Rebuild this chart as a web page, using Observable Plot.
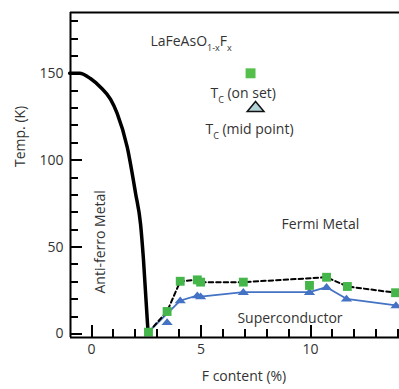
<!DOCTYPE html>
<html><head><meta charset="utf-8">
<script src="https://cdn.jsdelivr.net/npm/d3@7"></script>
<script src="https://cdn.jsdelivr.net/npm/@observablehq/plot@0.6"></script>
<style>body{margin:0;background:#fff}</style>
</head><body><div id="chart"></div>
<script>
// ---- data ----
const fOnset = [2.6, 3.45, 4.05, 4.83, 4.98, 6.93, 9.95, 10.73, 11.68, 13.88];
const tOnset = [1.0, 12.9, 30.3, 31.1, 29.8, 29.8, 27.9, 32.6, 27.3, 23.7];
const fMid = [2.6, 3.45, 4.05, 4.83, 4.98, 6.93, 9.95, 10.73, 11.64, 13.9];
const tMid = [1.0, 6.7, 19.2, 22.1, 21.5, 24.0, 24.0, 26.9, 20.2, 16.4];
const fAfm = [-1, -0.55, -0.05, 0.41, 0.87, 1.17, 1.63, 2.01, 2.24, 2.37, 2.58];
const tAfm = [150, 150, 147, 142, 135, 127, 107.5, 81, 63, 43, 1];
const onsetGuideSkip = [6];   // dashed guide passes above the 10% point
const midGuideSkip = [1];     // solid guide passes above the 3.5% point
const midDotSkip = [0];       // first mid point hidden under onset square

const xMajor = [0, 5, 10];
const xMinor = d3.range(0, 15);
const yMajor = [0, 50, 100, 150];
const yMinor = d3.range(10, 190, 10);
const xDomain = [-0.96, 14.06];
const yDomain = [-2.07, 185];

const title = "LaFeAsO1-xFx";
const onsetLabel = "TC (on set)";
const midLabel = "TC (mid point)";
const regionLabels = [
  {text: "Fermi Metal", F: 10.45, T: 63},
  {text: "Superconductor", F: 9.06, T: 8.6}
];
const afmLabel = {text: "Anti-ferro Metal", F: 0.41, T: 53};
const xLabel = "F content (%)";
const yLabel = "Temp. (K)";

// ---- tables ----
const onset = fOnset.map((F, i) => ({F, T: tOnset[i]}));
const mid = fMid.map((F, i) => ({F, T: tMid[i]}));
const afm = fAfm.map((F, i) => ({F, T: tAfm[i]}));
const onsetGuide = onset.filter((d, i) => !onsetGuideSkip.includes(i));
const midGuide = mid.filter((d, i) => !midGuideSkip.includes(i));
const midDots = mid.filter((d, i) => !midDotSkip.includes(i));

const W = 399, H = 389, mL = 70, mT = 12, mR = 0, mB = 52;
const frameW = W - mL - mR, frameH = H - mT - mB;
const xPx = frameW / (xDomain[1] - xDomain[0]);   // pixels per x unit
const yPx = frameH / (yDomain[1] - yDomain[0]);   // pixels per y unit
const green = "#45b649", blue = "#4472c4", ink = "#333";
const flatTriangle = {
  draw(ctx, size) {
    const s = Math.sqrt(size / Math.PI);
    const hw = 1.2 * s, h = 1.45 * s;
    ctx.moveTo(0, -h * 0.6);
    ctx.lineTo(hw, h * 0.4);
    ctx.lineTo(-hw, h * 0.4);
    ctx.closePath();
  }
};

const chart = Plot.plot({
  width: W, height: H,
  marginLeft: mL, marginTop: mT, marginRight: mR, marginBottom: mB,
  style: {fontFamily: "'Open Sans', 'Noto Sans', sans-serif", fontSize: "14px", color: "#000", background: "#fff"},
  x: {domain: xDomain},
  y: {domain: yDomain},
  marks: [
    Plot.axisX({ticks: xMajor, tickSize: 0, tickPadding: 7, label: null, fill: ink}),
    Plot.axisY({ticks: yMajor, tickSize: 0, tickPadding: 7, label: null, fill: ink}),
    Plot.line(afm, {x: "F", y: "T", curve: "monotone-x", stroke: "#000", strokeWidth: 3.5}),
    Plot.line(midGuide, {x: "F", y: "T", stroke: blue, strokeWidth: 1.8}),
    Plot.line(onsetGuide, {x: "F", y: "T", stroke: "#000", strokeWidth: 2, strokeDasharray: "4.5,3"}),
    Plot.dot(midDots, {x: "F", y: "T", r: 4.7, symbol: flatTriangle, fill: blue, stroke: "none"}),
    Plot.dot(onset, {x: "F", y: "T", r: 5, symbol: "square", fill: green, stroke: "none"}),
    // legend
    Plot.dot([{F: 7.26, T: 150}], {x: "F", y: "T", r: 5.6, symbol: "square", fill: "#55bf4c", stroke: "none"}),
    Plot.dot([{F: 7.49, T: 130.3}], {x: "F", y: "T", r: 7, symbol: flatTriangle, fill: "#b3d3d9", stroke: "#111", strokeWidth: 1.5}),
    Plot.text([{text: onsetLabel, F: 5.43, T: 138.4}], {x: "F", y: "T", text: "text", textAnchor: "start", fontSize: 14, fill: ink}),
    Plot.text([{text: midLabel, F: 5.2, T: 117.6}], {x: "F", y: "T", text: "text", textAnchor: "start", fontSize: 14, fill: ink}),
    Plot.text([{text: title, F: 2.69, T: 168.3}], {x: "F", y: "T", text: "text", textAnchor: "start", fontSize: 14, fill: ink}),
    Plot.text(regionLabels, {x: "F", y: "T", text: "text", fontSize: 14, fill: ink}),
    Plot.text([afmLabel], {x: "F", y: "T", text: "text", rotate: -90, fontSize: 14, fill: ink}),
    Plot.text([xLabel], {frameAnchor: "bottom", dx: 9, dy: 43, fontSize: 14, fill: ink}),
    Plot.text([yLabel], {frameAnchor: "left", rotate: -90, dx: -50, dy: -8, fontSize: 14, fill: ink}),
    // frame (left, top, bottom)
    Plot.ruleX([xDomain[0]], {stroke: "#000", strokeWidth: 2}),
    Plot.ruleY([yDomain[0]], {stroke: "#000", strokeWidth: 2}),
    Plot.ruleY([yDomain[1]], {stroke: "#000", strokeWidth: 2}),
    // inward ticks (minor 8px, major 12px)
    Plot.ruleX(xMinor, {x: d => d, y1: yDomain[0], y2: yDomain[0] + 8 / yPx, stroke: "#000", strokeWidth: 2, shapeRendering: "crispEdges"}),
    Plot.ruleX(xMajor, {x: d => d, y1: yDomain[0], y2: yDomain[0] + 12 / yPx, stroke: "#000", strokeWidth: 2, shapeRendering: "crispEdges"}),
    Plot.ruleY(yMinor, {y: d => d, x1: xDomain[0], x2: xDomain[0] + 8 / xPx, stroke: "#000", strokeWidth: 2, shapeRendering: "crispEdges"}),
    Plot.ruleY(yMajor, {y: d => d, x1: xDomain[0], x2: xDomain[0] + 12 / xPx, stroke: "#000", strokeWidth: 2, shapeRendering: "crispEdges"})
  ]
});

// subscripts as real text (tspans)
const subs = {
  [title]: [["LaFeAsO", 0], ["1-x", 1], ["F", 0], ["x", 1]],
  [onsetLabel]: [["T", 0], ["C", 1], [" (on set)", 0]],
  [midLabel]: [["T", 0], ["C", 1], [" (mid point)", 0]]
};
d3.select(chart).selectAll("text").each(function () {
  const parts = subs[this.textContent];
  if (!parts) return;
  const el = d3.select(this);
  el.text(null);
  let low = false;
  for (const [s, sub] of parts) {
    const t = el.append("tspan").text(s);
    if (sub) {
      t.attr("font-size", 9);
      if (!low) { t.attr("dy", 5); low = true; }
    } else if (low) { t.attr("dy", -5); low = false; }
  }
});
document.getElementById("chart").appendChild(chart);
</script>
</body></html>
